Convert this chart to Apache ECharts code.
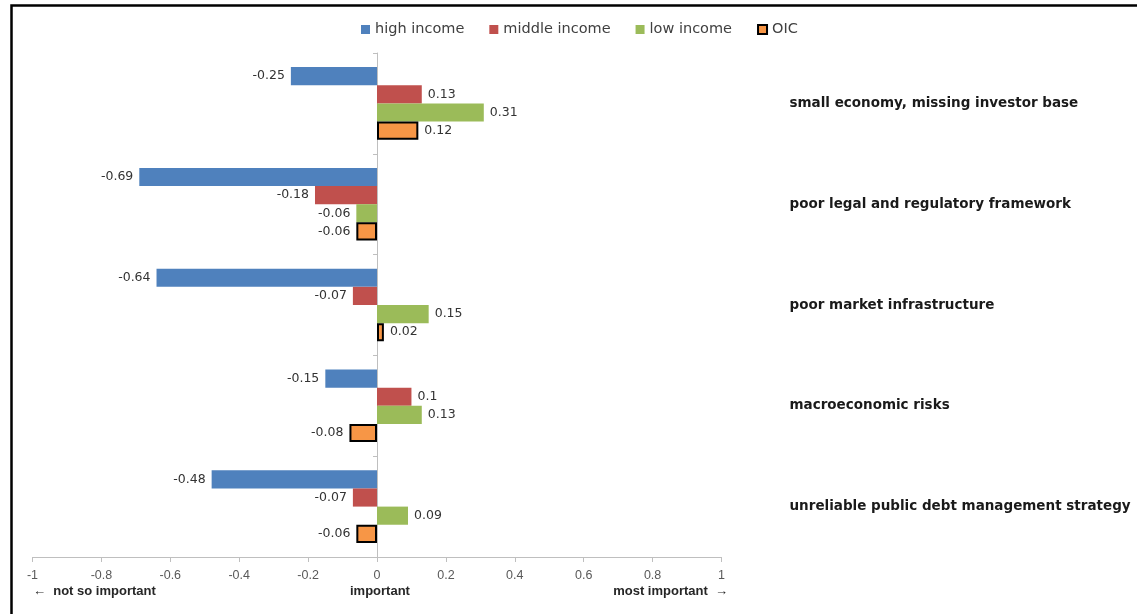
<!DOCTYPE html>
<html>
<head>
<meta charset="utf-8">
<script src="https://cdn.jsdelivr.net/npm/echarts@6/dist/echarts.min.js"></script>
<style>
html,body{margin:0;padding:0;background:#fff;}
#chart{width:1137px;height:614px;}
</style>
</head>
<body>
<div id="chart"></div>
<script>
const categories = [
  "small economy, missing investor base",
  "poor legal and regulatory framework",
  "poor market infrastructure",
  "macroeconomic risks",
  "unreliable public debt management strategy"
];
const seriesNames = ["high income", "middle income", "low income", "OIC"];
const highIncome = [-0.25, -0.69, -0.64, -0.15, -0.48];
const middleIncome = [0.13, -0.18, -0.07, 0.1, -0.07];
const lowIncome = [0.31, -0.06, 0.15, 0.13, 0.09];
const oic = [0.12, -0.06, 0.02, -0.08, -0.06];
const xTicks = { min: -1, max: 1, interval: 0.2 };
const bottomTexts = ["\u2190  not so important", "important", "most important  \u2192"];

const colors = ["#4F81BD", "#C0504D", "#9BBB59", "#F79646"];
const allValues = [highIncome, middleIncome, lowIncome, oic];

function mkData(arr) {
  return arr.map(v => ({
    value: v,
    label: { position: v < 0 ? 'left' : 'right' }
  }));
}

const series = allValues.map((arr, i) => ({
  name: seriesNames[i],
  type: 'bar',
  yAxisIndex: 0,
  data: mkData(arr),
  barGap: '0%',
  barCategoryGap: '28%',
  itemStyle: i === 3 ? { color: colors[i], borderColor: '#000', borderWidth: 2 } : { color: colors[i] },
  label: {
    show: true,
    distance: 6,
    color: '#333333',
    fontFamily: 'DejaVu Sans',
    fontSize: 12.5
  },
  emphasis: { disabled: true },
  animation: false
}));

const chart = echarts.init(document.getElementById('chart'), null, { renderer: 'canvas' });
chart.setOption({
  animation: false,
  backgroundColor: '#fff',
  grid: { left: 32.5, right: 415.5, top: 53, bottom: 57, containLabel: false },
  legend: {
    left: 356,
    top: 17,
    itemWidth: 9,
    itemHeight: 9,
    itemGap: 25,
    icon: 'rect',
    textStyle: { fontFamily: 'DejaVu Sans', fontSize: 14.5, color: '#404040' },
    data: seriesNames.map((n, i) => ({
      name: n,
      itemStyle: i === 3 ? { color: colors[i], borderColor: '#000', borderWidth: 2 } : { color: colors[i], borderWidth: 0 }
    }))
  },
  xAxis: {
    type: 'value',
    min: xTicks.min,
    max: xTicks.max,
    interval: xTicks.interval,
    splitLine: { show: false },
    axisLine: { show: true, lineStyle: { color: '#BFBFBF', width: 1 } },
    axisTick: { show: true, length: 5, lineStyle: { color: '#BFBFBF' } },
    axisLabel: {
      margin: 12,
      color: '#595959',
      fontFamily: 'Liberation Sans',
      fontSize: 12.5,
      formatter: v => String(Math.round(v * 10) / 10)
    }
  },
  yAxis: [
    {
      type: 'category',
      inverse: true,
      data: categories,
      axisLine: { show: true, onZero: true, lineStyle: { color: '#BFBFBF', width: 1 } },
      axisTick: { show: true, length: 4, lineStyle: { color: '#BFBFBF' } },
      axisLabel: { show: false },
      splitLine: { show: false }
    },
    {
      type: 'category',
      inverse: true,
      position: 'right',
      data: categories,
      axisLine: { show: false },
      axisTick: { show: false },
      axisLabel: {
        show: true,
        margin: 68,
        align: 'left',
        color: '#1a1a1a',
        fontFamily: 'DejaVu Sans',
        fontWeight: 'bold',
        fontSize: 13.5
      },
      splitLine: { show: false }
    }
  ],
  series: series,
  graphic: [
    {
      type: 'rect',
      left: 9, top: 3,
      shape: { x: 0, y: 0, width: 1200, height: 700 },
      style: { fill: 'none', stroke: '#000', lineWidth: 2.5 },
      silent: true,
      z: 100
    },
    {
      type: 'text',
      left: 33, top: 585,
      style: { text: bottomTexts[0], fill: '#262626', font: 'bold 13px "Liberation Sans"' }
    },
    {
      type: 'text',
      left: 350, top: 585,
      style: { text: bottomTexts[1], fill: '#262626', font: 'bold 13px "Liberation Sans"' }
    },
    {
      type: 'text',
      right: 1137 - 728, top: 585,
      style: { text: bottomTexts[2], fill: '#262626', font: 'bold 13px "Liberation Sans"' }
    }
  ]
});
</script>
</body>
</html>
